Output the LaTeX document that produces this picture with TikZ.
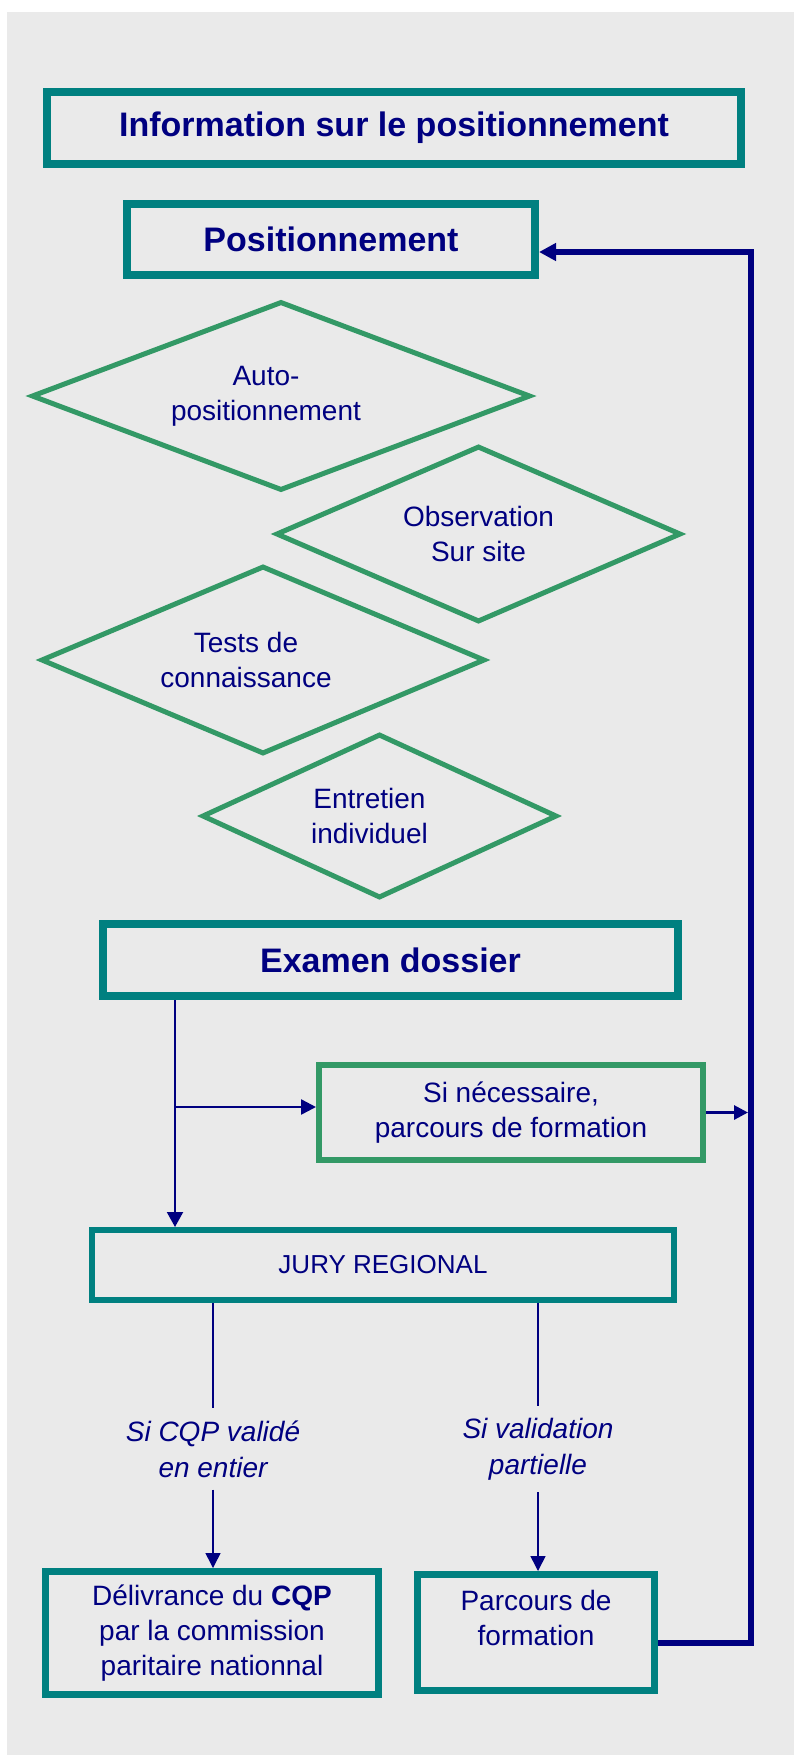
\documentclass[tikz,border=0pt]{standalone}
\usepackage{fontspec}
\setmainfont{Liberation Sans}
\usepackage{tikz}
\usetikzlibrary{shapes,backgrounds}
\usetikzlibrary{positioning,calc,arrows.meta}

\definecolor{boxteal}{RGB}{0,128,128}
\definecolor{diagreen}{RGB}{51,153,102}
\definecolor{textnavy}{RGB}{0,0,128}
\definecolor{bggray}{RGB}{234,234,234}

\begin{document}
\begin{tikzpicture}[x=1pt,y=-1pt,
        titlebox/.style={draw=boxteal,line width=8pt,inner sep=0pt,text=textnavy,font=\fontsize{34}{40}\selectfont\bfseries},
        tealbox/.style={draw=boxteal,line width=7pt,inner sep=0pt,text=textnavy,align=center,font=\fontsize{28}{35}\selectfont},
        greenbox/.style={tealbox,draw=diagreen,line width=6pt},
        choice/.style={diamond,draw=diagreen,line width=5pt,inner sep=0pt,aspect=2.5,text=textnavy,align=center,font=\fontsize{28}{35}\selectfont},
        cond/.style={text=textnavy,align=center,inner sep=12pt,font=\fontsize{28}{36}\selectfont\itshape},
        link/.style={draw=textnavy,line width=1.5pt}]
        \useasboundingbox (0,0) rectangle (794,1755);
        \fill[bggray] (7,12) rectangle (794,1755);

        \node[titlebox,minimum width=694,minimum height=72] (info) at (394,128) {Information sur le positionnement};
        \node[titlebox,minimum width=408,minimum height=71] (posit) at (331,239.5) {Positionnement};

        \node[choice,minimum width=499,minimum height=189] (auto) at (281,396) {Auto-\hspace*{30pt}\\positionnement\hspace*{30pt}};
        \node[choice,minimum width=405,minimum height=176] (obs) at (478.5,534) {Observation\\Sur site};
        \node[choice,minimum width=444,minimum height=188] (tests) at (263,660) {Tests de\hspace*{34pt}\\connaissance\hspace*{34pt}};
        \node[choice,minimum width=355,minimum height=164] (entretien) at (379.5,816) {Entretien\hspace*{20pt}\\individuel\hspace*{20pt}};

        \node[titlebox,minimum width=575,minimum height=72] (examen) at (390.5,960) {Examen dossier};
        \node[greenbox,minimum width=384,minimum height=95] (besoin) at (511,1112.5) {Si nécessaire,\\parcours de formation};
        \node[tealbox,line width=6pt,minimum width=582,minimum height=70,font=\fontsize{26}{32}\selectfont] (jury) at (383,1265) {JURY REGIONAL};

        \node[cond] (entier) at (213,1449) {Si CQP validé\\en entier};
        \node[cond] (partiel) at (538,1449) {Si validation\\partielle};

        \node[tealbox,minimum width=333,minimum height=123] (cqp) at (212,1633) {Délivrance du \textbf{CQP}\\par la commission\\paritaire nationnal};
        \node[tealbox,minimum width=237,minimum height=116,text depth=30pt] (parcours) at (536,1632.5) {Parcours de\\formation};

        \coordinate (split) at (175,1107);
        \coordinate (turn) at ($(posit.east)+(212,12.5)$);

        \draw[link,line width=2pt,-{Triangle[length=15pt,width=16pt]}] (examen.south -| split) -- (jury.north -| split);
        \draw[link,line width=2.5pt,-{Triangle[length=15pt,width=15pt]}] (split) -- (besoin.west |- split);
        \draw[link,line width=3pt,shorten >=3pt,-{Triangle[length=14pt,width=14pt]}] (besoin.east) -- (besoin.east -| turn);
        \draw[link,line width=6pt,-{Triangle[length=17pt,width=17pt]}] ($(parcours.east)+(0,10.5)$) -| (turn) -- ($(posit.east)+(0,12.5)$);

        \draw[link] (jury.south -| entier) -- (entier.north);
        \draw[link,-{Triangle[length=15pt,width=15pt]}] (entier.south) -- (cqp.north -| entier.south);
        \draw[link] (jury.south -| partiel) -- (partiel.north);
        \draw[link,-{Triangle[length=15pt,width=15pt]}] (partiel.south) -- (parcours.north -| partiel.south);
    \end{tikzpicture}
\end{document}
